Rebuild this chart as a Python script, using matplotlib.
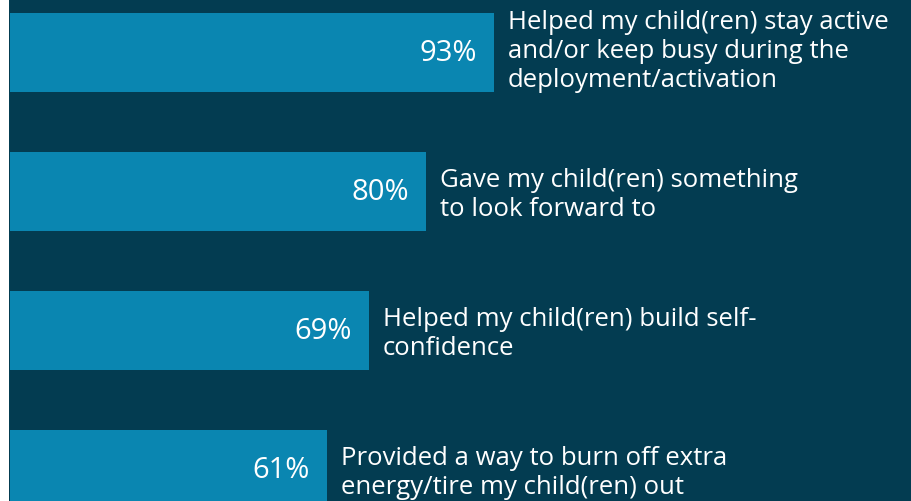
import matplotlib
matplotlib.use("Agg")
import matplotlib.pyplot as plt

# values
labels = [
    "Helped my child(ren) stay active\nand/or keep busy during the\ndeployment/activation",
    "Gave my child(ren) something\nto look forward to",
    "Helped my child(ren) build self-\nconfidence",
    "Provided a way to burn off extra\nenergy/tire my child(ren) out",
]
values = [93, 80, 69, 61]

BG = "#033c51"
BAR = "#0a86b1"

plt.rcParams["font.family"] = ["Open Sans", "DejaVu Sans"]

W, H, DPI = 911, 502, 100
fig = plt.figure(figsize=(W / DPI, H / DPI), dpi=DPI, facecolor="white")
ax = fig.add_axes([9 / W, 0, 1 - 9 / W, 1])
ax.set_facecolor(BG)

px = 5.2  # pixels per percent
ax.set_xlim(-1 / px, (W - 10) / px)
ax.set_ylim((H - 53.5) / 139, -53.5 / 139)

ys = list(range(len(values)))
ax.barh(ys, values, height=79 / 139, color=BAR, left=0)

for y, v, lab in zip(ys, values, labels):
    ax.text(v - 17 / px, y, f"{v}%", color="white", fontsize=21,
            ha="right", va="center")
    # long labels sit slightly above the bar centre
    dy = -0.015 if lab.count("\n") > 1 else 0.02
    ax.text(v + 14 / px, y + dy, lab, color="white", fontsize=18.5,
            ha="left", va="center", linespacing=1.22)

for s in ax.spines.values():
    s.set_visible(False)
ax.set_xticks([])
ax.set_yticks([])
fig.savefig("out.png", dpi=DPI, facecolor="white")
